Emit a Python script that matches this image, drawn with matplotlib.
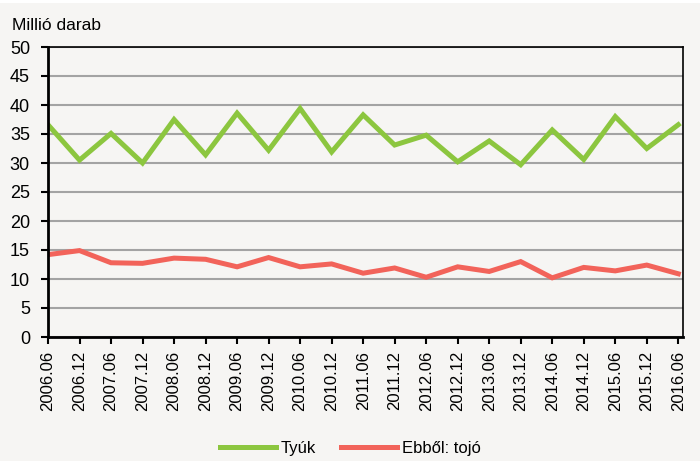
import matplotlib
matplotlib.use("Agg")
import matplotlib.pyplot as plt
from matplotlib.patches import Rectangle

plt.rcParams['font.family'] = ['Liberation Sans', 'DejaVu Sans']

periods = ['2006.06', '2006.12', '2007.06', '2007.12', '2008.06', '2008.12',
           '2009.06', '2009.12', '2010.06', '2010.12', '2011.06', '2011.12',
           '2012.06', '2012.12', '2013.06', '2013.12', '2014.06', '2014.12',
           '2015.06', '2015.12', '2016.06']
tyuk = [36.6, 30.5, 35.1, 30.0, 37.5, 31.4, 38.6, 32.2, 39.4, 31.9, 38.3,
        33.1, 34.8, 30.2, 33.8, 29.7, 35.7, 30.6, 38.0, 32.5, 36.6]
tojo = [14.2, 14.9, 12.8, 12.7, 13.6, 13.4, 12.1, 13.7, 12.1, 12.6, 11.0,
        11.9, 10.3, 12.1, 11.3, 13.0, 10.2, 12.0, 11.4, 12.4, 10.9]

bg = '#f6f5f3'
fig = plt.figure(figsize=(7, 4.61), dpi=100, facecolor=bg)
# thin white strip along the top edge
fig.patches.append(Rectangle((0, 1 - 3/461), 1, 3/461, transform=fig.transFigure,
                             facecolor='white', edgecolor='none'))
ax = fig.add_axes([48/700, 124/461, 635/700, 290/461])
ax.set_facecolor(bg)

x = range(len(periods))
ax.plot(x, tyuk, color='#8cc63f', lw=3.6, label='Tyúk', solid_joinstyle='miter')
ax.plot(x, tojo, color='#f2635a', lw=3.6, label='Ebből: tojó', solid_joinstyle='miter')

ax.set_xlim(0, 20.15)
ax.set_ylim(0, 50)
ax.set_yticks(range(0, 51, 5))
ax.set_xticks(list(x))
ax.set_xticklabels(periods, rotation=90)
ax.yaxis.grid(True, color='#a3a3a3', lw=1.5)
ax.set_axisbelow(True)
ax.tick_params(axis='both', direction='out', length=5, width=1.5, color='black')
ax.tick_params(axis='x', labelsize=12, pad=5)
ax.tick_params(axis='y', labelsize=13, pad=8)
for side in ['top', 'right']:
    ax.spines[side].set_linewidth(1.2)
for side in ['left', 'bottom']:
    ax.spines[side].set_linewidth(2)

fig.text(12/700, 1 - 25/461, 'Millió darab', fontsize=12.5, va='center', ha='left')

fig.legend(loc='center', bbox_to_anchor=(0.5, 1 - 448/461), ncol=2, frameon=False,
           fontsize=12, handlelength=3.4, handletextpad=0.25, columnspacing=1.5)

fig.savefig('out.png', dpi=100, facecolor=bg)
